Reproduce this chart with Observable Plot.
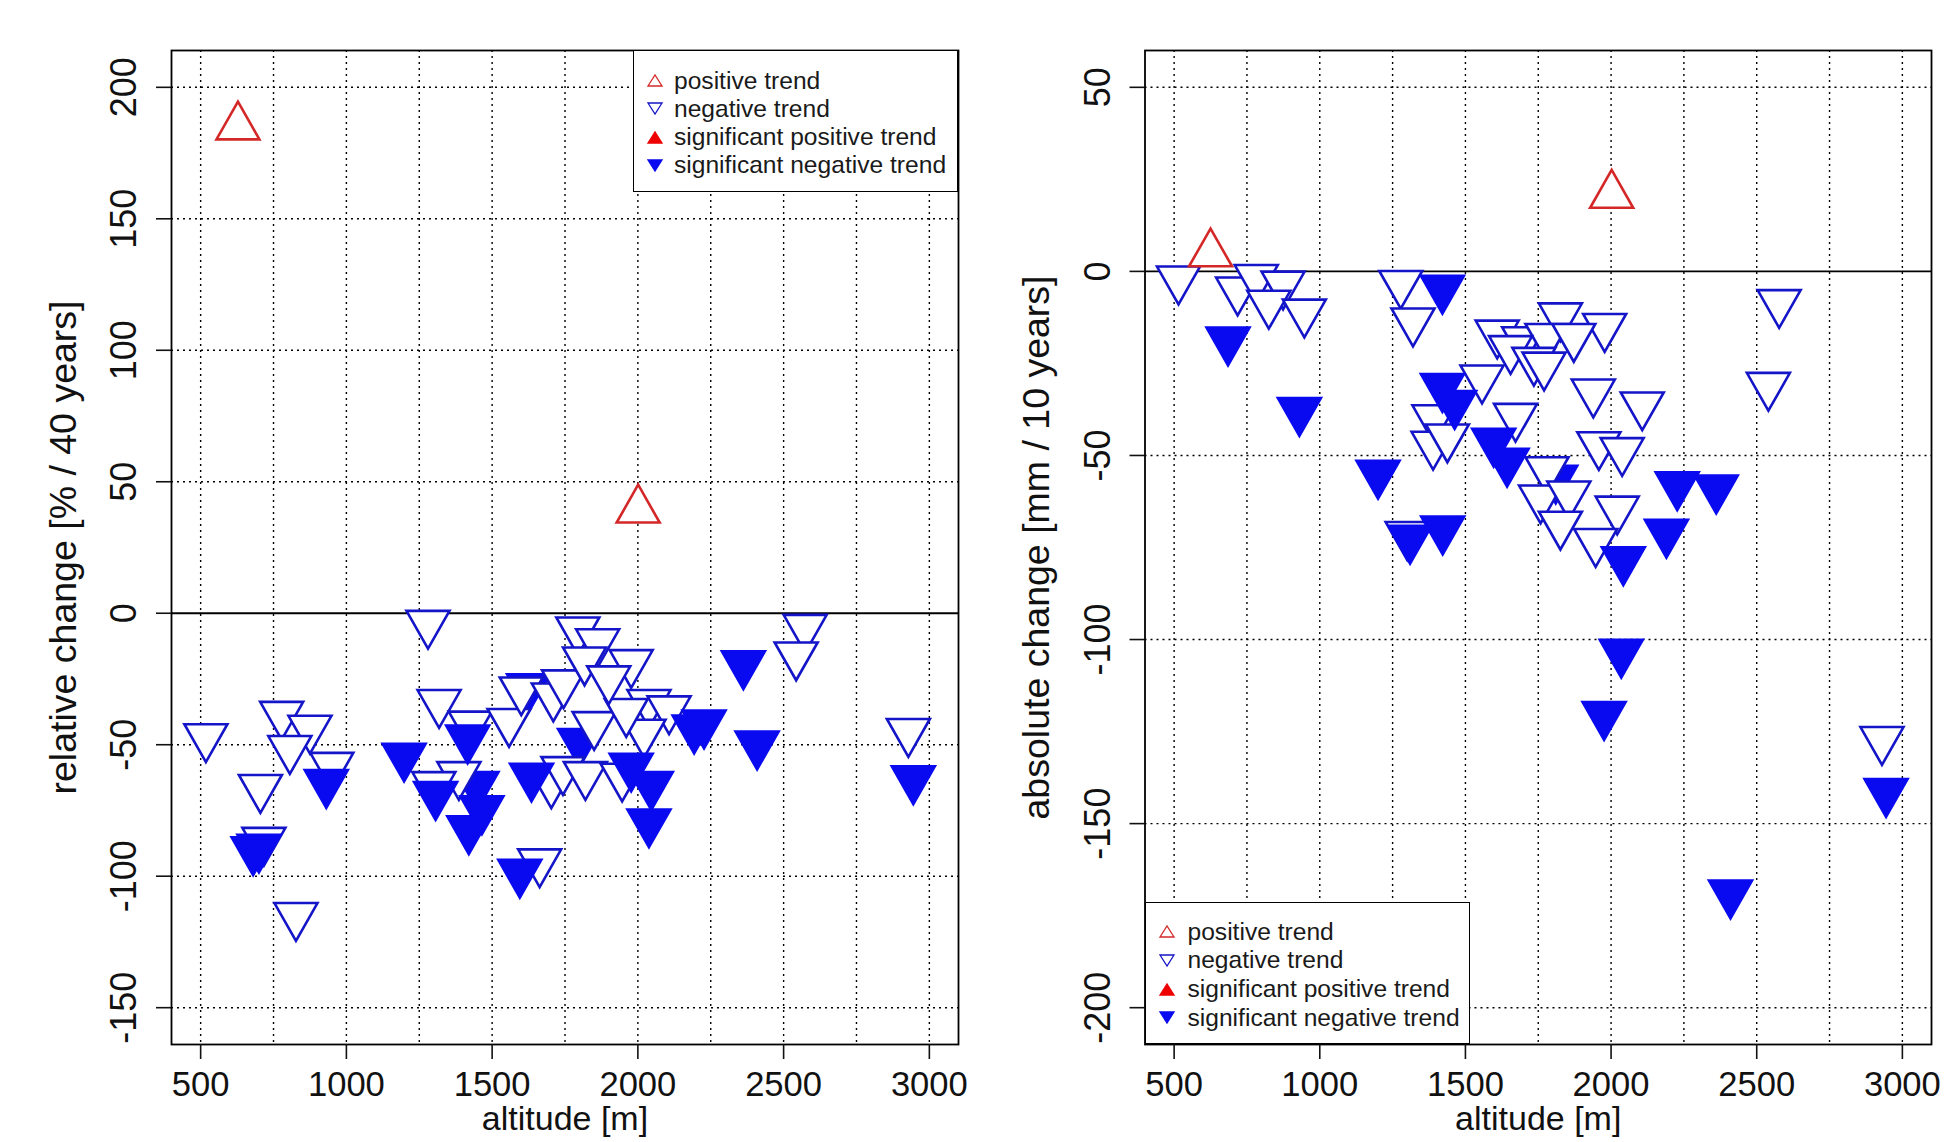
<!DOCTYPE html>
<html>
<head>
<meta charset="utf-8">
<script src="https://cdn.jsdelivr.net/npm/d3@7"></script>
<script src="https://cdn.jsdelivr.net/npm/@observablehq/plot@0.6"></script>
<style>
  html, body { margin: 0; padding: 0; background: #fff; overflow: hidden; }
  body { width: 1945px; height: 1142px; position: relative; font-family: "Liberation Sans", Arial, sans-serif; }
  .panel { position: absolute; top: 0; }
  .legend { position: absolute; box-sizing: border-box; border: 1.5px solid #000; background: #fff; }
  .legend .row { position: absolute; left: 0; height: 28px; transform: translateY(-50%); display: flex; align-items: center; }
  .legend .row svg { position: absolute; }
  .legend .row span { position: absolute; font-size: 24.6px; color: #1a1a1a; white-space: nowrap; line-height: 1; }
</style>
</head>
<body>
<div id="left" class="panel" style="left:0px"></div>
<div id="right" class="panel" style="left:973px"></div>
<script>
// ---------- axes / ticks ----------
const xGrid = [500, 750, 1000, 1250, 1500, 1750, 2000, 2250, 2500, 2750, 3000];
const xTicks = [500, 1000, 1500, 2000, 2500, 3000];
const relTicks = [-150, -100, -50, 0, 50, 100, 150, 200];
const relGrid = [-150, -100, -50, 50, 100, 150, 200];
const absTicks = [-200, -150, -100, -50, 0, 50];
const absGrid = [-200, -150, -100, -50, 50];
const xTitle = "altitude [m]";
const relTitle = "relative change [% / 40 years]";
const absTitle = "absolute change [mm / 10 years]";
const legendLabels = ["positive trend", "negative trend", "significant positive trend", "significant negative trend"];
const legendTypes = ["pos", "neg", "sigpos", "signeg"];

// ---------- left panel: relative change [% / 40 years] ----------
const relAltitude = [1625, 1800, 1448,
  518, 778, 875, 806, 950, 705, 717, 827, 1280, 1318, 1425, 1558, 1386, 1300, 1703, 1743, 1820, 1850,
  1663, 1600, 1710, 1745, 1794, 1862, 1817, 2574, 2543, 1977, 2038, 2107, 2021, 1960, 1946, 1900, 2928,
  931, 680, 700, 1416, 1198, 1306, 1465, 1420, 1635, 1595, 2362, 2409, 2227, 2193, 1977, 2046, 2038, 2945,
  628, 2001];
const relChange = [-28, -48.8, -65.2,
  -47, -38.5, -43.8, -51.5, -57.9, -66.3, -86.4, -115, -3.9, -34, -42.2, -41.2, -61.4, -65.2, -64.5, -59.5, -61.4, -42.4,
  -94.6, -29.2, -31.5, -26.5, -6.4, -10.9, -17.8, -5.4, -15.9, -18.8, -34, -36.4, -45.3, -37.4, -62, -25, -45,
  -64.4, -90, -89, -47.5, -54.4, -69, -74.4, -82, -62, -98.6, -19.3, -49.8, -41.8, -43.7, -58.2, -65.2, -79.4, -63,
  185, 39.3];
const relType = ["signeg", "signeg", "signeg",
  "neg", "neg", "neg", "neg", "neg", "neg", "neg", "neg", "neg", "neg", "neg", "neg", "neg", "neg", "neg", "neg", "neg", "neg",
  "neg", "neg", "neg", "neg", "neg", "neg", "neg", "neg", "neg", "neg", "neg", "neg", "neg", "neg", "neg", "neg", "neg",
  "signeg", "signeg", "signeg", "signeg", "signeg", "signeg", "signeg", "signeg", "signeg", "signeg", "signeg", "signeg", "signeg", "signeg", "signeg", "signeg", "signeg", "signeg",
  "pos", "pos"];

// ---------- right panel: absolute change [mm / 10 years] ----------
const absAltitude = [1810,
  515, 718, 782, 874, 825, 947, 1278, 1320, 1300, 1392, 1389, 1438, 1826, 1978, 1609, 1700, 1780, 1872,
  1655, 1735, 1770, 1557, 1939, 2107, 1672, 1958, 2038, 1780, 1758, 1855, 1826, 2021, 1947, 2577, 2540, 2930,
  685, 930, 1421, 1200, 1310, 1422, 1421, 1463, 1597, 1643, 2042, 2227, 2361, 2190, 2035, 1976, 2410, 2944,
  625, 2002];
const absChange = [-56.2,
  -2.1, -5.1, -1.7, -3.5, -8.7, -11.1, -3.3, -13.5, -71.5, -39.8, -47, -45, -12.1, -15, -16.8, -18.6, -17.7, -17.7,
  -21, -24.2, -25.5, -29, -32.8, -36.3, -39.4, -47.1, -48.7, -53.9, -61.6, -60.5, -68.7, -64.6, -73.4, -8.5, -31, -127.2,
  -18.7, -37.8, -4.6, -54.9, -72.5, -70, -31.3, -35.9, -46.2, -51.6, -78.4, -58, -58.9, -70.9, -103.5, -120.4, -168.9, -141.3,
  4.8, 20.7];
const absType = ["signeg",
  "neg", "neg", "neg", "neg", "neg", "neg", "neg", "neg", "neg", "neg", "neg", "neg", "neg", "neg", "neg", "neg", "neg", "neg",
  "neg", "neg", "neg", "neg", "neg", "neg", "neg", "neg", "neg", "neg", "neg", "neg", "neg", "neg", "neg", "neg", "neg", "neg",
  "signeg", "signeg", "signeg", "signeg", "signeg", "signeg", "signeg", "signeg", "signeg", "signeg", "signeg", "signeg", "signeg", "signeg", "signeg", "signeg", "signeg", "signeg",
  "pos", "pos"];

// ---------- styling ----------
const BLUE = "#0a0af0";
const NAVY = "#1414c8";
const RED = "#d42828";
const fillOf = {pos: "white", neg: "white", sigpos: "#ee0000", signeg: BLUE};
const strokeOf = {pos: RED, neg: NAVY, sigpos: "#ee0000", signeg: BLUE};

const HW = 21.5, TOP = 12.6, TIP = 25.2;
const triDown = {draw(ctx) { ctx.moveTo(-HW, -TOP); ctx.lineTo(HW, -TOP); ctx.lineTo(0, TIP); ctx.closePath(); }};
const triUp = {draw(ctx) { ctx.moveTo(-HW, TOP); ctx.lineTo(HW, TOP); ctx.lineTo(0, -TIP); ctx.closePath(); }};

function panel(alt, val, type, yDomain, yTicks, yGrid, yTitle, marginLeft) {
  const pts = alt.map((a, i) => ({alt: a, val: val[i], type: type[i]}));
  const down = pts.filter(d => d.type === "neg" || d.type === "signeg");
  const up = pts.filter(d => d.type === "pos" || d.type === "sigpos");
  return Plot.plot({
    width: 972, height: 1142,
    marginLeft, marginRight: 14, marginTop: 50, marginBottom: 98,
    x: {domain: [400, 3100]},
    y: {domain: yDomain},
    color: {type: "identity"},
    style: {fontFamily: "'Liberation Sans', Arial, sans-serif", background: "white", color: "#111"},
    marks: [
      Plot.ruleX(xGrid, {stroke: "#000", strokeWidth: 1.4, strokeDasharray: "2,4"}),
      Plot.ruleY(yGrid, {stroke: "#000", strokeWidth: 1.4, strokeDasharray: "2,4"}),
      Plot.ruleY([0], {stroke: "#000", strokeWidth: 1.8}),
      Plot.dot(down, {x: "alt", y: "val", symbol: triDown, fill: d => fillOf[d.type], stroke: d => strokeOf[d.type], strokeWidth: 2.6}),
      Plot.dot(up, {x: "alt", y: "val", symbol: triUp, fill: d => fillOf[d.type], stroke: d => strokeOf[d.type], strokeWidth: 2.6}),
      Plot.frame({stroke: "#000", strokeWidth: 1.8}),
      Plot.axisX({ticks: xTicks, tickSize: 15, tickFormat: () => "", label: null, strokeWidth: 1.6}),
      Plot.axisY({ticks: yTicks, tickSize: 15, tickFormat: () => "", label: null, strokeWidth: 1.6}),
      Plot.text(xTicks, {x: d => d, text: d => String(d), frameAnchor: "bottom", dy: 27, lineAnchor: "top", fontSize: 34.6, fill: "#111"}),
      Plot.text(yTicks, {y: d => d, text: d => String(d), frameAnchor: "left", dx: -47, rotate: -90, lineAnchor: "middle", textAnchor: "middle", fontSize: 36, fill: "#111"}),
      Plot.text([yTitle], {frameAnchor: "left", dx: -108, rotate: -90, lineAnchor: "middle", textAnchor: "middle", fontSize: 37.5, fill: "#111"}),
      Plot.text([xTitle], {frameAnchor: "bottom", dy: 61, lineAnchor: "top", fontSize: 34, fill: "#111"})
    ]
  });
}

document.getElementById("left").append(panel(relAltitude, relChange, relType, [-164, 214], relTicks, relGrid, relTitle, 171));
document.getElementById("right").append(panel(absAltitude, absChange, absType, [-210, 60], absTicks, absGrid, absTitle, 171.5));

// ---------- legends ----------
function legendSymbol(t) {
  const up = (t === "pos" || t === "sigpos");
  const pts = up ? "1,12 15,12 8,1" : "1,1 15,1 8,12";
  const fill = fillOf[t] === "white" ? "none" : fillOf[t];
  return `<svg width="16" height="13" style="left:-8px;top:-6.5px;overflow:visible"><polygon points="${pts}" fill="${fill}" stroke="${strokeOf[t]}" stroke-width="1.3"/></svg>`;
}
function makeLegend(left, top, width, height, symX, textX, row0, rowStep) {
  const box = document.createElement("div");
  box.className = "legend";
  box.style.left = left + "px"; box.style.top = top + "px";
  box.style.width = width + "px"; box.style.height = height + "px";
  legendLabels.forEach((lab, i) => {
    const row = document.createElement("div");
    row.className = "row";
    row.style.top = (row0 + i * rowStep) + "px";
    row.innerHTML = `<div style="position:absolute;left:${symX}px;top:14px">${legendSymbol(legendTypes[i])}</div>` +
      `<span style="left:${textX}px;top:2px">${lab}</span>`;
    box.append(row);
  });
  document.body.append(box);
}
makeLegend(633, 50, 325, 142, 21, 40, 29.5, 28.3);
makeLegend(1144.5, 902, 325, 142, 21, 42, 28.5, 28.8);
</script>
</body>
</html>
